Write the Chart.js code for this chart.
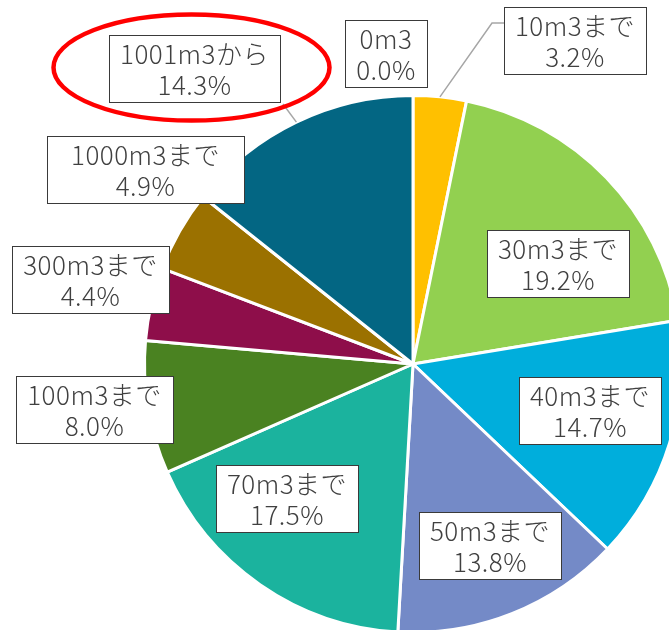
<!DOCTYPE html>
<html>
<head>
<meta charset="utf-8">
<script src="https://cdn.jsdelivr.net/npm/chart.js@4.4.1/dist/chart.umd.min.js"></script>
<style>
    html, body { margin: 0; padding: 0; background: #ffffff; overflow: hidden; }
    #wrap { position: relative; width: 700px; height: 660px; }
</style>
</head>
<body>
<div id="wrap"><canvas id="volumeChart" width="700" height="660"></canvas></div>
<script>
// Data
const categories = ['0m3', '10m3まで', '30m3まで', '40m3まで', '50m3まで', '70m3まで', '100m3まで', '300m3まで', '1000m3まで', '1001m3から'];
const shares = [0.0, 3.2, 19.2, 14.7, 13.8, 17.5, 8.0, 4.4, 4.9, 14.3];
const sliceColors = ['#7f7f7f', '#ffc000', '#92d050', '#00aedc', '#748ac7', '#1bb39e', '#4a8221', '#8e0e4a', '#9b7100', '#036683'];
const highlightCategory = '1001m3から';

// Label placement: k = fraction of radius along slice mid angle, dx/dy = nudge in px
const labelPlacement = [
    { k: 1.157, dx: -27, dy: 0 },
    { k: 1.2, dx: 130, dy: -3, leader: 'elbow' },
    { k: 0.68, dx: 14, dy: 26 },
    { k: 0.68, dx: 3, dy: -7 },
    { k: 0.68, dx: 10, dy: 12 },
    { k: 0.68, dx: -22, dy: -16 },
    { k: 1.19, dx: -3, dy: -6 },
    { k: 1.24, dx: 2, dy: -10 },
    { k: 1.23, dx: 19, dy: -31, pad: 24 },
    { k: 1.365, dx: -59, dy: 35, leader: 'straight' }
];

const FONT = '300 26px "Noto Sans CJK JP", "Noto Sans", sans-serif';

const boxLabels = {
    id: 'boxLabels',
    afterDatasetsDraw(chart) {
        const ctx = chart.ctx;
        const arcs = chart.getDatasetMeta(0).data;
        ctx.save();
        ctx.font = FONT;
        ctx.letterSpacing = '0.5px';
        const boxes = [];
        arcs.forEach((arc, i) => {
            const { x, y, startAngle, endAngle, outerRadius } = arc.getProps(['x', 'y', 'startAngle', 'endAngle', 'outerRadius'], true);
            const mid = (startAngle + endAngle) / 2;
            const p = labelPlacement[i];
            const cx = x + Math.cos(mid) * outerRadius * p.k + p.dx;
            const cy = y + Math.sin(mid) * outerRadius * p.k + p.dy;
            const lines = [categories[i], shares[i].toFixed(1) + '%'];
            const w = Math.max(...lines.map(t => ctx.measureText(t).width)) + 2 * (p.pad || 11);
            const h = 67;
            const box = { left: Math.round(cx - w / 2), top: Math.round(cy - h / 2), w: Math.round(w), h, lines };
            box.edge = { x: x + Math.cos(mid) * outerRadius, y: y + Math.sin(mid) * outerRadius };
            box.leader = p.leader;
            boxes.push(box);
        });

        // leader lines
        ctx.strokeStyle = '#a6a6a6';
        ctx.lineWidth = 1.5;
        boxes.forEach(b => {
            if (!b.leader) return;
            ctx.beginPath();
            ctx.moveTo(b.edge.x, b.edge.y);
            if (b.leader === 'elbow') {
                ctx.lineTo(b.left - 12, b.top + 16);
                ctx.lineTo(b.left, b.top + 16);
            } else {
                ctx.lineTo(b.left + b.w + 3, b.top + b.h + 2);
            }
            ctx.stroke();
        });

        // boxes and text
        boxes.forEach(b => {
            ctx.fillStyle = '#ffffff';
            ctx.fillRect(b.left, b.top, b.w, b.h);
            ctx.strokeStyle = '#3a3a3a';
            ctx.lineWidth = 1;
            ctx.strokeRect(b.left + 0.5, b.top + 0.5, b.w, b.h);
            ctx.fillStyle = '#404040';
            ctx.textAlign = 'center';
            ctx.textBaseline = 'middle';
            ctx.fillText(b.lines[0], b.left + b.w / 2, b.top + 19);
            ctx.fillText(b.lines[1], b.left + b.w / 2, b.top + 50);
        });

        // red highlight ellipse
        const hi = boxes[categories.indexOf(highlightCategory)];
        ctx.strokeStyle = '#ff0000';
        ctx.lineWidth = 4.5;
        ctx.beginPath();
        ctx.ellipse(hi.left + hi.w / 2 - 3, hi.top + hi.h / 2 - 1, 138, 53, 0, 0, Math.PI * 2);
        ctx.stroke();
        ctx.restore();
    }
};

new Chart(document.getElementById('volumeChart'), {
    type: 'pie',
    data: {
        labels: categories,
        datasets: [{
            data: shares,
            backgroundColor: sliceColors,
            borderColor: '#ffffff',
            borderWidth: 3,
            hoverOffset: 0
        }]
    },
    options: {
        responsive: false,
        animation: false,
        devicePixelRatio: 1,
        layout: { padding: { left: 143, top: 94, right: 17, bottom: 26 } },
        plugins: {
            legend: { display: false },
            tooltip: { enabled: false }
        }
    },
    plugins: [boxLabels]
});
</script>
</body>
</html>
